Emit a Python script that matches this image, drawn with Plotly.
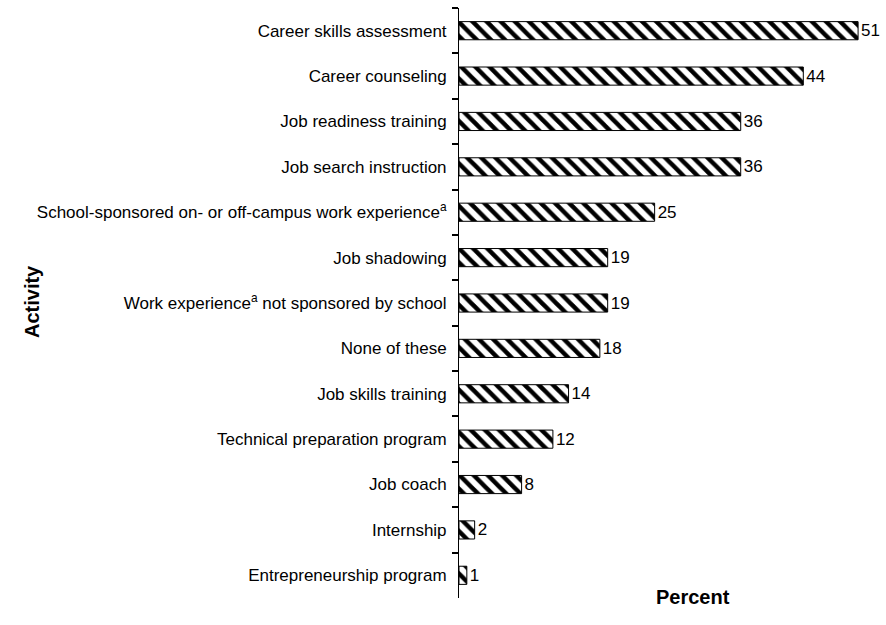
import plotly.graph_objects as go

activities = [
    "Career skills assessment",
    "Career counseling",
    "Job readiness training",
    "Job search instruction",
    "School-sponsored on- or off-campus work experience<sup>a</sup>",
    "Job shadowing",
    "Work experience<sup>a</sup> not sponsored by school",
    "None of these",
    "Job skills training",
    "Technical preparation program",
    "Job coach",
    "Internship",
    "Entrepreneurship program",
]
percents = [51, 44, 36, 36, 25, 19, 19, 18, 14, 12, 8, 2, 1]

W, H = 886, 625
L, R, T, B = 459, 6, 8, 27

fig = go.Figure(
    go.Bar(
        x=percents,
        y=activities,
        orientation="h",
        marker=dict(
            color="white",
            line=dict(color="black", width=1),
            pattern=dict(shape="\\", fgcolor="black", bgcolor="white",
                         size=10, solidity=0.45, fillmode="replace"),
        ),
        text=[str(v) for v in percents],
        textposition="outside",
        constraintext="none",
        textfont=dict(family="Liberation Sans, Arial", size=17, color="black"),
        cliponaxis=False,
        width=0.4,
    )
)


def paper_xy(px, py):
    """Convert pixel coordinates to paper coordinates of the plot area."""
    pw, ph = W - L - R, H - T - B
    return (px - L) / pw, 1 - (py - T) / ph


ax, ay = paper_xy(19, 302)
bx, by = paper_xy(693, 610)

fig.update_layout(
    width=W,
    height=H,
    margin=dict(l=L, r=R, t=T, b=B),
    plot_bgcolor="white",
    paper_bgcolor="white",
    showlegend=False,
    font=dict(family="Liberation Sans, Arial", size=17, color="black"),
    xaxis=dict(range=[0, 53.8], showticklabels=False, showgrid=False,
               zeroline=False, showline=False, ticks="", fixedrange=True),
    yaxis=dict(
        autorange="reversed",
        showline=True,
        linecolor="black",
        linewidth=1,
        ticks="outside",
        tickson="boundaries",
        ticklen=6,
        tickwidth=1.5,
        tickcolor="black",
        ticklabelstandoff=8,
        showgrid=False,
        zeroline=False,
        tickfont=dict(size=17),
    ),
    annotations=[
        dict(text="<b>Activity</b>", x=ax, y=ay, xref="paper", yref="paper",
             showarrow=False, textangle=-90, font=dict(size=20)),
        dict(text="<b>Percent</b>", x=bx, y=by, xref="paper", yref="paper",
             showarrow=False, font=dict(size=20)),
    ],
)

fig.write_html("out.html")
